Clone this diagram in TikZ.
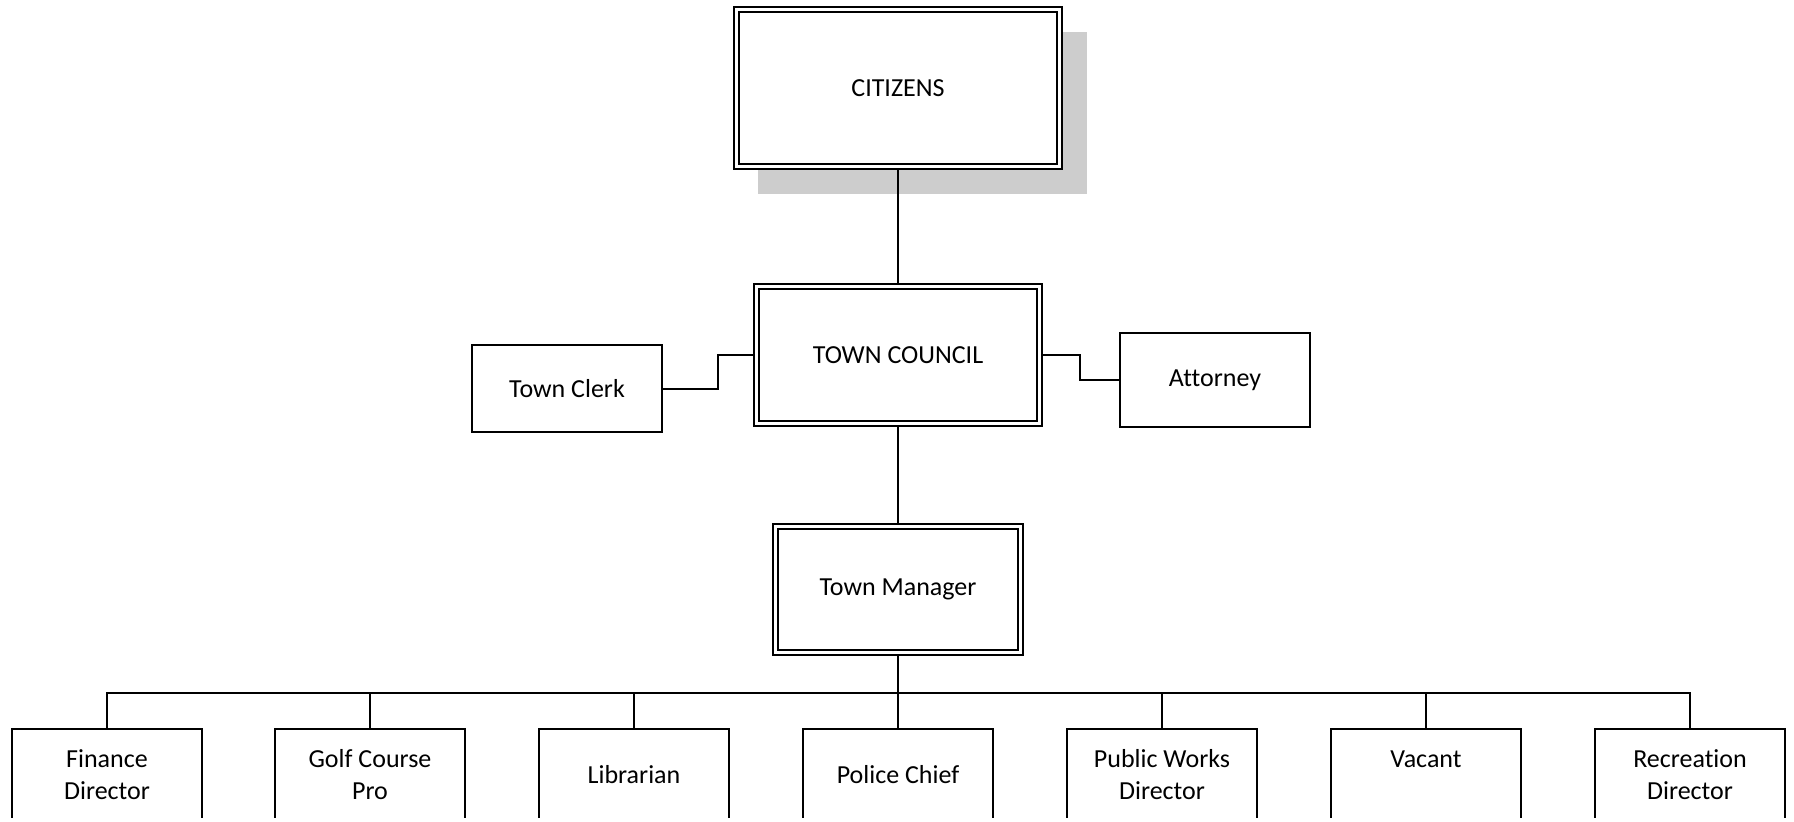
\documentclass[tikz,border=0pt]{standalone}
\usepackage{fontspec}
\setmainfont{Carlito}[Ligatures=NoCommon]
\definecolor{shadowgray}{RGB}{205,205,205}
\begin{document}
\begin{tikzpicture}[x=1pt,y=-1pt,
  every node/.style={font=\fontsize{26}{32}\selectfont, align=center, inner sep=0pt},
  box/.style={draw=black, line width=2pt, fill=white, rectangle, minimum width=190pt},
  dbox/.style={draw=black, line width=1.8pt, double=white, double distance=2.5pt, fill=white, rectangle, outer sep=3.05pt},
  conn/.style={line width=2pt, draw=black}]
\useasboundingbox (0,0) rectangle (1794,822);
\fill[white] (0,0) rectangle (1794,822);
\clip (-5,-5) rectangle (1799,817);
% shadow of citizens
\fill[shadowgray] (758,32) rectangle (1087,194);
% top hierarchy
\node[dbox, minimum width=323pt, minimum height=157pt] (cit) at (898,88) {CITIZENS};
\node[dbox, minimum width=283pt, minimum height=137pt] (tc) at (898,355) {TOWN COUNCIL};
\node[dbox, minimum width=245pt, minimum height=126pt] (tm) at (898,589.5) {Town Manager};
\node[box, minimum height=87pt] (clerk) at (567,388.5) {Town Clerk};
\node[box, minimum height=94pt] (att) at (1215,380) {Attorney};
% departments
\node[box, minimum height=92pt] (fin) at (107,775) {Finance\\Director};
\node[box, minimum height=92pt] (golf) at (370,775) {Golf Course\\Pro};
\node[box, minimum height=92pt] (lib) at (634,775) {Librarian};
\node[box, minimum height=92pt] (pol) at (898,775) {Police Chief};
\node[box, minimum height=92pt] (pw) at (1162,775) {Public Works\\Director};
\node[box, minimum height=92pt] (vac) at (1426,775) {Vacant\\~};
\node[box, minimum height=92pt] (rec) at (1690,775) {Recreation\\Director};
% connectors
\draw[conn] (cit.south) -- (tc.north);
\draw[conn] (tc.south) -- (tm.north);
\draw[conn] (clerk.east) -- ++(55,0) |- (tc.west);
\draw[conn] (tc.east) -- ++(37,0) |- (att.west);
\foreach \c in {fin,golf,lib,pol,pw,vac,rec}{
  \draw[conn] (tm.south) -- ++(0,37) -| (\c.north);
}
\end{tikzpicture}
\end{document}
